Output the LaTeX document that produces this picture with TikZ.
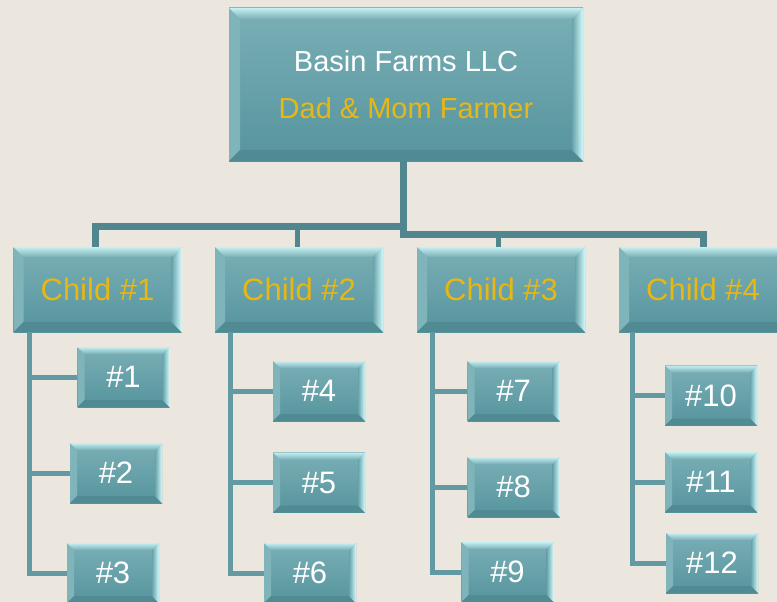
\documentclass[tikz,border=0pt]{standalone}
\usepackage{fontspec}
\setmainfont{Liberation Sans}
\definecolor{bg}{RGB}{235,231,222}
\definecolor{boxtop}{RGB}{122,175,182}
\definecolor{boxbot}{RGB}{86,148,157}
\definecolor{boxmid}{RGB}{104,162,170}
\definecolor{bevhi}{RGB}{208,251,252}
\definecolor{bevleft}{RGB}{128,180,187}
\definecolor{bevbot}{RGB}{80,139,147}
\definecolor{busc}{RGB}{82,134,142}
\definecolor{subc}{RGB}{98,153,162}
\definecolor{gold}{RGB}{232,183,18}
\tikzset{
  bevel/.style={path picture={
    \path (path picture bounding box.north west) coordinate (pnw)
          (path picture bounding box.north east) coordinate (pne)
          (path picture bounding box.south west) coordinate (psw)
          (path picture bounding box.south east) coordinate (pse);
    \fill[bevleft] (pnw) -- ([shift={(#1,-#1)}]pnw) -- ([shift={(#1,#1)}]psw) -- (psw) -- cycle;
    \fill[bevbot] (psw) -- ([shift={(#1,#1)}]psw) -- ([shift={(-#1,#1)}]pse) -- (pse) -- cycle;
    \shade[left color=boxmid, right color=bevhi] (pne) -- (pse) -- ([shift={(-#1,#1)}]pse) -- ([shift={(-#1,-#1)}]pne) -- cycle;
    \shade[top color=bevhi!85!boxtop, bottom color=boxtop] (pnw) -- (pne) -- ([shift={(-#1,-#1)}]pne) -- ([shift={(#1,-#1)}]pnw) -- cycle;
  }},
  boxbase/.style={rectangle, inner sep=0pt, top color=boxtop, bottom color=boxbot, draw=none},
  topbox/.style={boxbase, minimum width=354pt, minimum height=153pt, bevel=11pt,
     font=\fontsize{29}{47}\selectfont, text=white, align=center},
  childbox/.style={boxbase, minimum width=168pt, minimum height=85pt, bevel=10pt,
     font=\fontsize{31}{36}\selectfont, text=gold},
  subbox/.style={boxbase, minimum width=92pt, minimum height=60pt, bevel=7pt,
     font=\fontsize{31}{36}\selectfont, text=white},
  busline/.style={draw=busc, line width=7pt, line join=miter},
  dropline/.style={draw=busc, line width=5pt},
  subline/.style={draw=subc, line width=5pt, line join=miter}
}
\begin{document}
\begin{tikzpicture}[x=1pt, y=-1pt]
\useasboundingbox[fill=bg] (0,0) rectangle (777,602);
\clip (0,0) rectangle (777,602);

% top
\node[topbox] (top) at (406,84.5) {Basin Farms LLC\\\textcolor{gold}{Dad \& Mom Farmer}};

% children
\node[childbox] (c1) at (97.5,289.5) {Child \#1};
\node[childbox] (c2) at (299,289.5) {Child \#2};
\node[childbox] (c3) at (501,289.5) {Child \#3};
\node[childbox] (c4) at (703,289.5) {Child \#4};

% grandchildren
\node[subbox] (s1) at (123.5,377) {\#1};
\node[subbox] (s2) at (116,473) {\#2};
\node[subbox] (s3) at (113,573) {\#3};
\node[subbox] (s4) at (319,391) {\#4};
\node[subbox] (s5) at (319,482.5) {\#5};
\node[subbox] (s6) at (310,573) {\#6};
\node[subbox] (s7) at (513.5,391) {\#7};
\node[subbox] (s8) at (513.5,487) {\#8};
\node[subbox] (s9) at (507.5,572) {\#9};
\node[subbox] (s10) at (711,395.5) {\#10};
\node[subbox] (s11) at (711,482) {\#11};
\node[subbox] (s12) at (712,563) {\#12};

% bus
\coordinate (jl) at (403,226);
\coordinate (jr) at (403,234);
\draw[busline] ([xshift=-3pt]top.south) -- ([yshift=3.5pt]jr);
\draw[busline] ([xshift=3.5pt]jl) -| ([xshift=-2pt]c1.north);
\draw[busline] ([xshift=-3.5pt]jr) -| (c4.north);
\draw[dropline] ([xshift=-1.5pt]c2.north) -- ([xshift=-1.5pt]c2.north |- jl);
\draw[dropline] ([xshift=-3pt]c3.north) -- ([xshift=-3pt]c3.north |- jr);

% subtrees
\coordinate (v1) at ([xshift=16pt]c1.south west);
\coordinate (v2) at ([xshift=16pt]c2.south west);
\coordinate (v3) at ([xshift=16pt]c3.south west);
\coordinate (v4) at ([xshift=14pt]c4.south west);
\draw[subline] (v1) |- (s3.west);
\draw[subline] (s1.west) -- (s1.west -| v1);
\draw[subline] (s2.west) -- (s2.west -| v1);
\draw[subline] (v2) |- (s6.west);
\draw[subline] (s4.west) -- (s4.west -| v2);
\draw[subline] (s5.west) -- (s5.west -| v2);
\draw[subline] (v3) |- (s9.west);
\draw[subline] (s7.west) -- (s7.west -| v3);
\draw[subline] (s8.west) -- (s8.west -| v3);
\draw[subline] (v4) |- (s12.west);
\draw[subline] (s10.west) -- (s10.west -| v4);
\draw[subline] (s11.west) -- (s11.west -| v4);
\end{tikzpicture}
\end{document}
